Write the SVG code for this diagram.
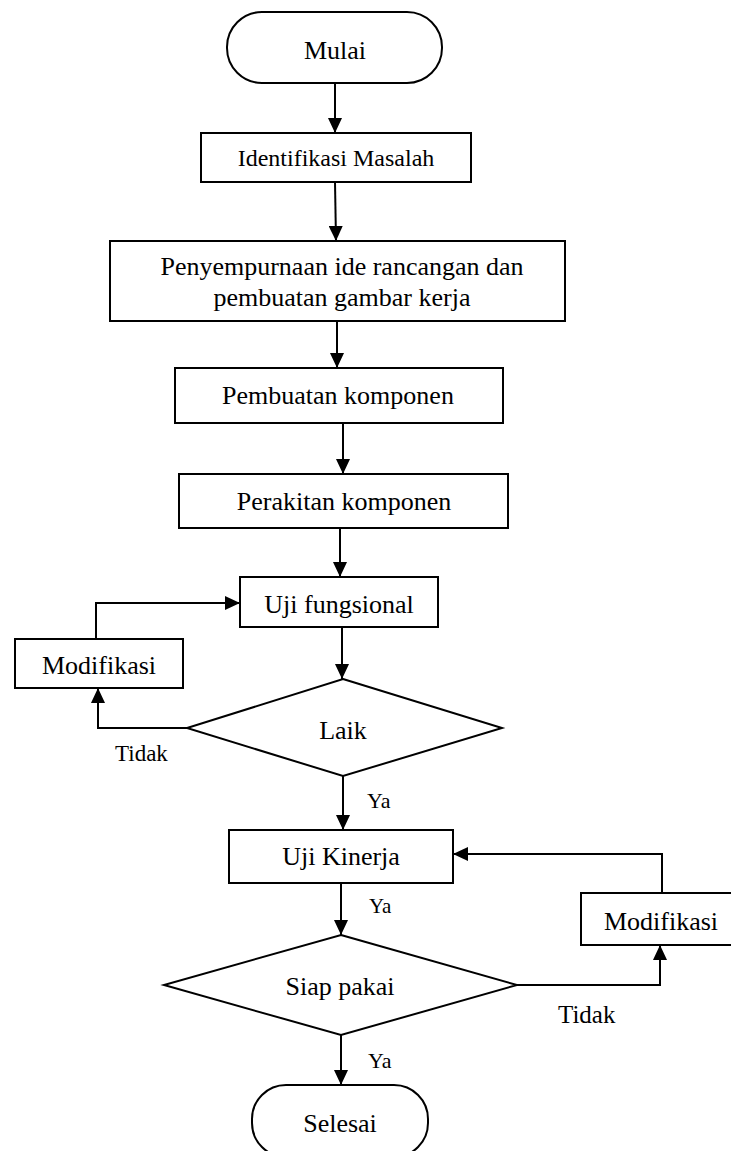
<svg xmlns="http://www.w3.org/2000/svg" width="731" height="1151" viewBox="0 0 731 1151">
<style>
.shape{fill:#ffffff;stroke:#000000;stroke-width:2}
.line{fill:none;stroke:#000000;stroke-width:2}
text{font-family:"Liberation Serif","Times New Roman",serif;fill:#000000;font-size:26px}
.c{text-anchor:middle}
.f24{font-size:24px}
.f23{font-size:23px}
.f22{font-size:22px}
.f21{font-size:21px}
.f25{font-size:25px}
</style>
<defs>
<marker id="arr" markerUnits="userSpaceOnUse" markerWidth="15" markerHeight="14" refX="15" refY="7" orient="auto">
<path d="M0,0 L15,7 L0,14 z" fill="#000000"/>
</marker>
</defs>
<rect width="731" height="1151" fill="#ffffff"/>
<g id="connectors">
<path class="line" d="M335,83 L335,133" marker-end="url(#arr)"/>
<path class="line" d="M335,182 L336,241" marker-end="url(#arr)"/>
<path class="line" d="M337,321 L337,368" marker-end="url(#arr)"/>
<path class="line" d="M343,423 L343,474" marker-end="url(#arr)"/>
<path class="line" d="M340,528 L340,577" marker-end="url(#arr)"/>
<path class="line" d="M342,627 L342,679" marker-end="url(#arr)"/>
<path class="line" d="M187,728 L98,728 L98,688" marker-end="url(#arr)"/>
<path class="line" d="M96,639 L96,603 L240,603" marker-end="url(#arr)"/>
<path class="line" d="M343,776 L343,830" marker-end="url(#arr)"/>
<path class="line" d="M341,883 L341,935" marker-end="url(#arr)"/>
<path class="line" d="M517,985 L660,985 L660,945" marker-end="url(#arr)"/>
<path class="line" d="M662,893 L662,854 L453,854" marker-end="url(#arr)"/>
<path class="line" d="M341,1035 L341,1085" marker-end="url(#arr)"/>
</g>
<g id="mulai">
<rect class="shape" x="227" y="12" width="215" height="71" rx="35" ry="35"/>
<text class="c" x="335" y="59">Mulai</text>
</g>
<g id="identifikasi">
<rect class="shape" x="201" y="133" width="270" height="49"/>
<text class="c f24" x="336" y="166">Identifikasi Masalah</text>
</g>
<g id="penyempurnaan">
<rect class="shape" x="110" y="241" width="455" height="80"/>
<text class="c" x="342" y="275">Penyempurnaan ide rancangan dan</text>
<text class="c" x="342" y="306">pembuatan gambar kerja</text>
</g>
<g id="pembuatan">
<rect class="shape" x="175" y="368" width="328" height="55"/>
<text class="c" x="338" y="404">Pembuatan komponen</text>
</g>
<g id="perakitan">
<rect class="shape" x="179" y="474" width="329" height="54"/>
<text class="c" x="344" y="510">Perakitan komponen</text>
</g>
<g id="uji-fungsional">
<rect class="shape" x="240" y="577" width="198" height="50"/>
<text class="c" x="339" y="613">Uji fungsional</text>
</g>
<g id="modifikasi-1">
<rect class="shape" x="15" y="639" width="168" height="49"/>
<text class="c" x="99" y="674">Modifikasi</text>
</g>
<g id="laik">
<polygon class="shape" points="343,679 502,728 343,776 187,728"/>
<text class="c" x="343" y="739">Laik</text>
</g>
<g id="label-tidak-1">
<text class="f23" x="115" y="761">Tidak</text>
</g>
<g id="label-ya-1">
<text class="f22" x="367" y="808">Ya</text>
</g>
<g id="uji-kinerja">
<rect class="shape" x="229" y="830" width="224" height="53"/>
<text class="c" x="341" y="865">Uji Kinerja</text>
</g>
<g id="label-ya-2">
<text class="f21" x="369" y="913">Ya</text>
</g>
<g id="modifikasi-2">
<rect class="shape" x="581" y="893" width="152" height="52"/>
<text class="c" x="661" y="930">Modifikasi</text>
</g>
<g id="siap-pakai">
<polygon class="shape" points="341,935 517,985 341,1035 164,985"/>
<text class="c" x="340" y="995">Siap pakai</text>
</g>
<g id="label-tidak-2">
<text class="f25" x="558" y="1023">Tidak</text>
</g>
<g id="label-ya-3">
<text class="f22" x="368" y="1068">Ya</text>
</g>
<g id="selesai">
<rect class="shape" x="252" y="1085" width="176" height="72" rx="34" ry="34"/>
<text class="c" x="340" y="1132">Selesai</text>
</g>
</svg>
